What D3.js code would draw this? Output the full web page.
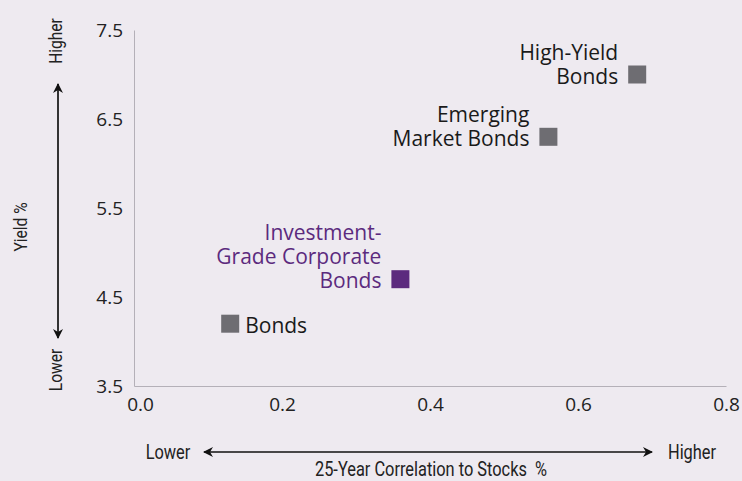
<!DOCTYPE html>
<html>
<head>
<meta charset="utf-8">
<script src="https://cdn.jsdelivr.net/npm/d3@7"></script>
<style>
  html, body { margin: 0; padding: 0; background: #eeeaf0; }
  #chart { width: 742px; height: 481px; }
  text { font-family: "Open Sans", "Noto Sans", sans-serif; }
  .narrow { font-family: "Roboto", sans-serif; font-weight: 400; }
</style>
</head>
<body>
<div id="chart"></div>
<script>
const names = ['High-Yield Bonds', 'Emerging Market Bonds', 'Investment-Grade Corporate Bonds', 'Bonds'];
const labelLines = [['High-Yield', 'Bonds'], ['Emerging', 'Market Bonds'], ['Investment-', 'Grade Corporate', 'Bonds'], ['Bonds']];
const correlation = [0.68, 0.56, 0.36, 0.13];
const yieldPct = [7.0, 6.3, 4.7, 4.2];
const labelSide = ['left', 'left', 'left', 'right'];
const highlight = [false, false, true, false];
const xTicks = [0.0, 0.2, 0.4, 0.6, 0.8];
const yTicks = [3.5, 4.5, 5.5, 6.5, 7.5];

const width = 742, height = 481;
const svg = d3.select('#chart').append('svg').attr('width', width).attr('height', height);

svg.append('defs').append('marker')
  .attr('id', 'head').attr('viewBox', '0 0 10 10')
  .attr('refX', 9).attr('refY', 5)
  .attr('markerWidth', 10).attr('markerHeight', 10)
  .attr('markerUnits', 'userSpaceOnUse')
  .attr('orient', 'auto-start-reverse')
  .append('path').attr('d', 'M0,0 L10,5 L0,10 L3,5 Z').attr('fill', '#111');

const x = d3.scaleLinear().domain([0, 0.8]).range([134, 726]);
const y = d3.scaleLinear().domain([3.5, 7.5]).range([386, 30]);

// axes
const xAxis = svg.append('g').attr('transform', `translate(0,${y(3.5)})`)
  .call(d3.axisBottom(x).tickValues(xTicks).tickFormat(d3.format('.1f')).tickSize(0).tickPadding(12));
const yAxis = svg.append('g').attr('transform', `translate(${x(0)},0)`)
  .call(d3.axisLeft(y).tickValues(yTicks).tickFormat(d3.format('.1f')).tickSize(0).tickPadding(11));
[xAxis, yAxis].forEach(a => {
  a.select('.domain').attr('stroke', '#b4b0b8');
  a.selectAll('text').attr('font-size', 19).attr('fill', '#222')
    .attr('font-family', '"Open Sans", "Noto Sans", sans-serif');
});
xAxis.selectAll('.tick text').filter(d => d === 0).attr('dx', 6);
yAxis.selectAll('.tick text').attr('dy', '0.36em');

// points
const pts = names.map((n, i) => ({ name: n, lines: labelLines[i], x: correlation[i], y: yieldPct[i], side: labelSide[i], hi: highlight[i] }));
const s = 18;
svg.selectAll('rect.pt').data(pts).join('rect').attr('class', 'pt')
  .attr('x', d => x(d.x) - s / 2).attr('y', d => y(d.y) - s / 2)
  .attr('width', s).attr('height', s)
  .attr('fill', d => d.hi ? '#5c2a7e' : '#6e6d72');

pts.forEach(d => {
  const px = x(d.x), py = y(d.y);
  const t = svg.append('text')
    .attr('font-size', 21)
    .attr('fill', d.hi ? '#5c2a7e' : '#1a1a1a')
    .attr('text-anchor', d.side === 'left' ? 'end' : 'start');
  const n = d.lines.length;
  d.lines.forEach((l, j) => {
    t.append('tspan')
      .attr('x', d.side === 'left' ? px - s / 2 - 10 : px + s / 2 + 6)
      .attr('y', py + 9 - (n - 1 - j) * 24)
      .text(l);
  });
});

// y direction arrow
svg.append('line').attr('x1', 58).attr('x2', 58).attr('y1', 84).attr('y2', 338)
  .attr('stroke', '#333').attr('stroke-width', 2)
  .attr('marker-start', 'url(#head)').attr('marker-end', 'url(#head)');
const vText = (txt, cx, cy) => svg.append('text').attr('class', 'narrow')
  .attr('transform', `translate(${cx},${cy}) rotate(-90) scale(0.82,1)`)
  .attr('text-anchor', 'middle').attr('dy', '0.35em')
  .attr('font-size', 19).attr('fill', '#222').text(txt);
vText('Higher', 55, 41);
vText('Lower', 55, 370);
vText('Yield %', 20, 227);

// x direction arrow
svg.append('line').attr('x1', 204).attr('x2', 652).attr('y1', 452).attr('y2', 452)
  .attr('stroke', '#111').attr('stroke-width', 1.5)
  .attr('marker-start', 'url(#head)').attr('marker-end', 'url(#head)');
const hText = (txt, cx, cy) => svg.append('text').attr('class', 'narrow')
  .attr('transform', `translate(${cx},${cy}) scale(0.82,1)`)
  .attr('text-anchor', 'middle').attr('dy', '0.35em')
  .attr('font-size', 20).attr('fill', '#222').text(txt);
hText('Lower', 168, 452);
hText('Higher', 692, 452);
hText('25-Year Correlation to Stocks  %', 431, 469).style('white-space', 'pre');
</script>
</body>
</html>
